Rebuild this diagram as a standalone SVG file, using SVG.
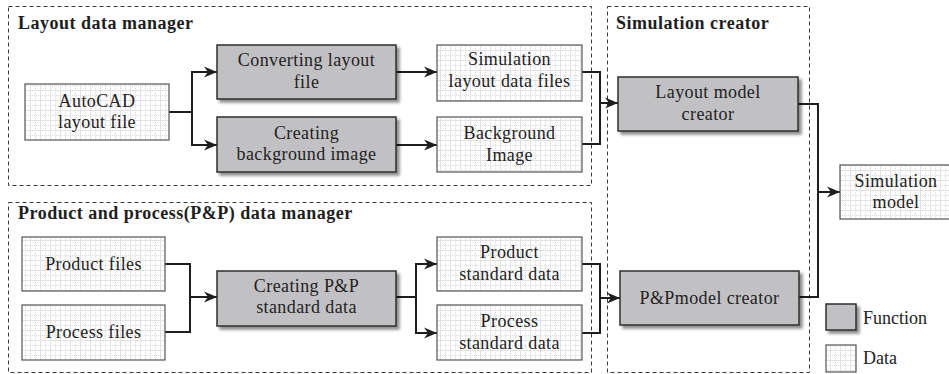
<svg xmlns="http://www.w3.org/2000/svg" width="949" height="374" viewBox="0 0 949 374">
  <defs>
    <pattern id="grid" width="10" height="10" patternUnits="userSpaceOnUse">
      <rect width="10" height="10" fill="#ffffff"/>
      <path d="M0,0.5 H10 M0.5,0 V10" stroke="#e2e2e2" stroke-width="1" fill="none"/>
      <path d="M0,5.5 H10 M5.5,0 V10" stroke="#dadada" stroke-width="1" stroke-dasharray="1,1" fill="none"/>
    </pattern>
    <filter id="shadow" x="-10%" y="-10%" width="130%" height="140%">
      <feGaussianBlur in="SourceAlpha" stdDeviation="1.5"/>
      <feOffset dx="3" dy="3" result="b"/>
      <feComponentTransfer><feFuncA type="linear" slope="0.45"/></feComponentTransfer>
      <feMerge><feMergeNode/><feMergeNode in="SourceGraphic"/></feMerge>
    </filter>
    <marker id="arrow" markerUnits="userSpaceOnUse" markerWidth="14" markerHeight="12" refX="13" refY="6" orient="auto">
      <path d="M0,0.5 L13,6 L0,11.5 L4,6 Z" fill="#1e1e1e"/>
    </marker>
  </defs>
  <style>
    text { font-family: 'Liberation Serif', 'DejaVu Serif', 'Times New Roman', serif; }
    .group { fill: none; stroke: #3a3a3a; stroke-width: 1; stroke-dasharray: 4,3; }
    .title { font-weight: bold; font-size: 18px; fill: #1e1e1e; letter-spacing: 0.5px; }
    .func { fill: #c1c1c3; stroke: #2e2e2e; stroke-width: 1.5; filter: url(#shadow); }
    .data { fill: url(#grid); stroke: #555555; stroke-width: 1.2; }
    .lbl { font-size: 18px; fill: #222222; text-anchor: middle; letter-spacing: 0.4px; }
    .leg { font-size: 18px; fill: #222222; }
    .wire { fill: none; stroke: #1e1e1e; stroke-width: 2; }
    .arr { fill: none; stroke: #1e1e1e; stroke-width: 2; marker-end: url(#arrow); }
  </style>

  <!-- module frames -->
  <g id="layout-data-manager">
    <rect class="group" x="8.5" y="6.5" width="583" height="179"/>
    <text class="title" x="18" y="29" font-family="Liberation Serif, serif">Layout data manager</text>
  </g>
  <g id="pp-data-manager">
    <rect class="group" x="8.5" y="202.5" width="583" height="170"/>
    <text class="title" x="18" y="219" font-family="Liberation Serif, serif">Product and process(P&amp;P) data manager</text>
  </g>
  <g id="simulation-creator">
    <rect class="group" x="607.5" y="6.5" width="202" height="366"/>
    <text class="title" x="616" y="29" font-family="Liberation Serif, serif">Simulation creator</text>
  </g>

  <!-- connectors -->
  <g id="connectors">
    <path class="wire" d="M169,112 H192"/>
    <path class="arr" d="M192,112 V72 H217"/>
    <path class="arr" d="M192,112 V145 H217"/>
    <path class="arr" d="M396,72 H437"/>
    <path class="arr" d="M396,145 H437"/>
    <path class="wire" d="M582,72 H600 V144 H582"/>
    <path class="arr" d="M600,103 H618"/>
    <path class="wire" d="M798,104 H818 V297 H799"/>
    <path class="arr" d="M818,192 H840"/>
    <path class="wire" d="M165,264 H190 V332 H165"/>
    <path class="arr" d="M190,297 H217"/>
    <path class="wire" d="M396,297 H416"/>
    <path class="arr" d="M416,297 V264 H437"/>
    <path class="arr" d="M416,297 V333 H437"/>
    <path class="wire" d="M582,264 H600 V333 H582"/>
    <path class="arr" d="M600,298 H620"/>
  </g>

  <!-- layout data nodes -->
  <g id="autocad-layout-file">
    <rect class="data" x="25" y="84" width="144" height="56"/>
    <text class="lbl" x="97" y="107">AutoCAD</text>
    <text class="lbl" x="97" y="128">layout  file</text>
  </g>
  <g id="converting-layout-file">
    <rect class="func" x="217" y="45" width="179" height="54"/>
    <text class="lbl" x="306.5" y="66">Converting  layout</text>
    <text class="lbl" x="306.5" y="88">file</text>
  </g>
  <g id="creating-background-image">
    <rect class="func" x="217" y="117" width="179" height="55"/>
    <text class="lbl" x="306.5" y="139">Creating</text>
    <text class="lbl" x="306.5" y="160">background image</text>
  </g>
  <g id="simulation-layout-data-files">
    <rect class="data" x="437" y="45" width="145" height="56"/>
    <text class="lbl" x="509.5" y="65">Simulation</text>
    <text class="lbl" x="509.5" y="87">layout  data  files</text>
  </g>
  <g id="background-image">
    <rect class="data" x="437" y="117" width="145" height="55"/>
    <text class="lbl" x="509.5" y="139">Background</text>
    <text class="lbl" x="509.5" y="161">Image</text>
  </g>

  <!-- P&P data nodes -->
  <g id="product-files">
    <rect class="data" x="22" y="237" width="143" height="54"/>
    <text class="lbl" x="93.5" y="270">Product files</text>
  </g>
  <g id="process-files">
    <rect class="data" x="22" y="305" width="143" height="55"/>
    <text class="lbl" x="93.5" y="338">Process files</text>
  </g>
  <g id="creating-pp-standard-data">
    <rect class="func" x="217" y="271" width="179" height="55"/>
    <text class="lbl" x="306.5" y="292">Creating  P&amp;P</text>
    <text class="lbl" x="306.5" y="313">standard data</text>
  </g>
  <g id="product-standard-data">
    <rect class="data" x="437" y="237" width="145" height="54"/>
    <text class="lbl" x="509.5" y="258">Product</text>
    <text class="lbl" x="509.5" y="280">standard data</text>
  </g>
  <g id="process-standard-data">
    <rect class="data" x="437" y="305" width="145" height="55"/>
    <text class="lbl" x="509.5" y="327">Process</text>
    <text class="lbl" x="509.5" y="349">standard data</text>
  </g>

  <!-- simulation creator nodes -->
  <g id="layout-model-creator">
    <rect class="func" x="618" y="77" width="180" height="54"/>
    <text class="lbl" x="708" y="98">Layout model</text>
    <text class="lbl" x="708" y="120">creator</text>
  </g>
  <g id="pp-model-creator">
    <rect class="func" x="620" y="271" width="179" height="54"/>
    <text class="lbl" x="709.5" y="304">P&amp;Pmodel creator</text>
  </g>

  <!-- output -->
  <g id="simulation-model">
    <rect class="data" x="840" y="165" width="115" height="54"/>
    <text class="lbl" x="896" y="187">Simulation</text>
    <text class="lbl" x="896" y="208">model</text>
  </g>

  <!-- legend -->
  <g id="legend-function">
    <rect class="func" x="826" y="304" width="30" height="26"/>
    <text class="leg" x="863" y="324">Function</text>
  </g>
  <g id="legend-data">
    <rect class="data" x="826" y="345" width="30" height="27"/>
    <text class="leg" x="863" y="364">Data</text>
  </g>
</svg>
